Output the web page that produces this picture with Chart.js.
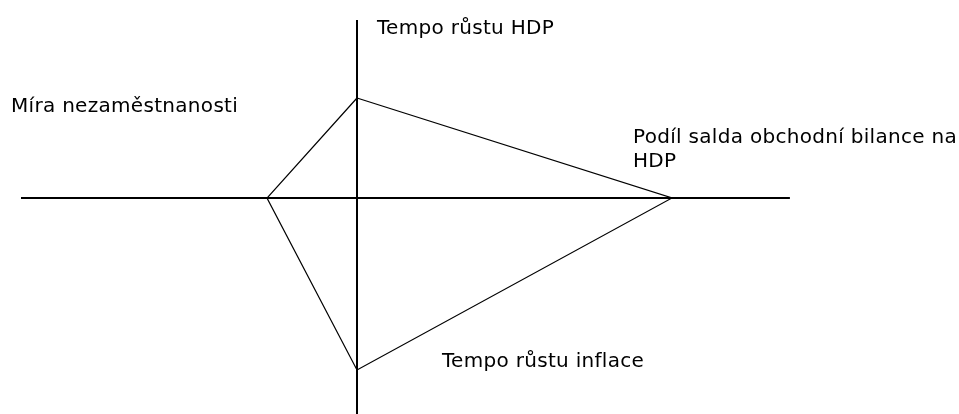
<!DOCTYPE html>
<html>
<head>
<meta charset="utf-8">
<script src="https://cdn.jsdelivr.net/npm/chart.js@4"></script>
<style>
    html, body { margin: 0; padding: 0; background: #fff; }
    #wrap { width: 959px; height: 414px; }
</style>
</head>
<body>
<div id="wrap"><canvas id="chart1"></canvas></div>
<script>
// magický čtyřúhelník: osy a hodnoty
const categories = ['Tempo růstu HDP', 'Podíl salda obchodní bilance na HDP', 'Tempo růstu inflace', 'Míra nezaměstnanosti'];
const gdpGrowth = 5.0;       // nahoru
const tradeBalance = 10.5;   // doprava
const inflation = 8.6;       // dolů
const unemployment = 3.0;    // doleva

const axisXRange = [-11.2, 14.43];
const axisYRange = [8.9, -10.8];

const polygon = [
    { x: 0, y: gdpGrowth },
    { x: tradeBalance, y: 0 },
    { x: 0, y: -inflation },
    { x: -unemployment, y: 0 },
    { x: 0, y: gdpGrowth }
];

const labelsPlugin = {
    id: 'axisLabels',
    afterDatasetsDraw(chart) {
        const ctx = chart.ctx;
        const xs = chart.scales.x;
        const ys = chart.scales.y;
        const x0 = xs.getPixelForValue(0);
        const y0 = ys.getPixelForValue(0);
        ctx.save();
        ctx.fillStyle = '#000';
        ctx.font = '20px "DejaVu Sans", Verdana, sans-serif';
        ctx.letterSpacing = '0.3px';
        ctx.textBaseline = 'alphabetic';
        ctx.fillText(categories[0], x0 + 20, ys.getPixelForValue(axisYRange[0]) + 14);
        ctx.fillText('Podíl salda obchodní bilance na', xs.getPixelForValue(tradeBalance) - 39, y0 - 55);
        ctx.fillText('HDP', xs.getPixelForValue(tradeBalance) - 39, y0 - 31);
        ctx.fillText(categories[2], x0 + 85, ys.getPixelForValue(-inflation) - 3);
        ctx.fillText(categories[3], xs.getPixelForValue(axisXRange[0]) - 10, ys.getPixelForValue(gdpGrowth) + 14);
        ctx.restore();
    }
};

new Chart(document.getElementById('chart1'), {
    type: 'scatter',
    data: {
        datasets: [
            {
                data: axisXRange.map(v => ({ x: v, y: 0 })),
                showLine: true,
                borderColor: '#000',
                borderWidth: 2,
                pointRadius: 0
            },
            {
                data: axisYRange.map(v => ({ x: 0, y: v })),
                showLine: true,
                borderColor: '#000',
                borderWidth: 2,
                pointRadius: 0
            },
            {
                data: polygon,
                showLine: true,
                borderColor: '#000',
                borderWidth: 1.2,
                pointRadius: 0,
                tension: 0
            }
        ]
    },
    options: {
        responsive: true,
        maintainAspectRatio: false,
        animation: false,
        layout: { padding: 0 },
        plugins: {
            legend: { display: false },
            tooltip: { enabled: false }
        },
        scales: {
            x: { type: 'linear', display: false, min: -357 / 30, max: (959 - 357) / 30 },
            y: { type: 'linear', display: false, min: -(414 - 198) / 20, max: 198 / 20 }
        }
    },
    plugins: [labelsPlugin]
});
</script>
</body>
</html>
